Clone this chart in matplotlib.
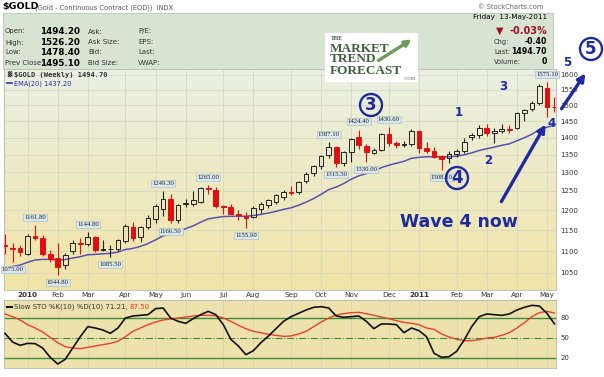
import numpy as np
import pandas as pd
import matplotlib
matplotlib.use("Agg")
import matplotlib.pyplot as plt
from matplotlib.patches import Rectangle, FancyArrowPatch
from matplotlib.ticker import FixedLocator, NullLocator, NullFormatter

plt.rcParams['font.family'] = ['DejaVu Sans']

# weekly $GOLD candles, 18-Dec-2009 .. 13-May-2011
opens = [1115, 1108, 1107, 1094, 1137, 1130, 1092, 1084, 1068, 1099,
         1120, 1117, 1133, 1102, 1104, 1104, 1123, 1157, 1133, 1158,
         1177, 1203, 1228, 1176, 1216, 1216, 1222, 1258, 1252, 1211,
         1207, 1191, 1186, 1183, 1203, 1213, 1222, 1235, 1247, 1246,
         1276, 1298, 1318, 1348, 1372, 1326, 1358, 1402, 1375, 1356,
         1364, 1410, 1385, 1379, 1380, 1420, 1370, 1362, 1345, 1341,
         1352, 1361, 1403, 1407, 1430, 1414, 1421, 1427, 1428, 1474,
         1487, 1507, 1557, 1494.2]
highs = [1140, 1120, 1115, 1141, 1161.8, 1138, 1102, 1120, 1095, 1126,
         1131, 1144.8, 1136, 1127, 1115, 1128, 1165, 1171, 1160, 1188,
         1215, 1249.3, 1243, 1216, 1228, 1251, 1260, 1265, 1260, 1214,
         1216, 1200, 1195, 1210, 1220, 1230, 1242, 1253, 1262, 1277,
         1300, 1321, 1350, 1387.1, 1376, 1362, 1400, 1424.4, 1380, 1370,
         1414, 1430.6, 1391, 1390, 1425, 1423, 1388, 1372, 1350, 1361,
         1368, 1398, 1414, 1437, 1442, 1428, 1440, 1439, 1478, 1489,
         1512, 1570, 1575.1, 1526.2]
lows = [1092, 1075, 1089, 1090, 1125, 1088, 1074, 1044.8, 1059, 1092,
        1094, 1112, 1097, 1100, 1085.5, 1100, 1120, 1124, 1122, 1152,
        1168, 1185, 1166.5, 1168, 1208, 1210, 1218, 1243, 1206, 1190,
        1190, 1176, 1155.9, 1180, 1192, 1205, 1215, 1227, 1240, 1242,
        1270, 1290, 1309, 1340, 1315.5, 1318, 1328, 1368, 1330, 1352,
        1360, 1375, 1370, 1373, 1375, 1355, 1354, 1340, 1308.1, 1326,
        1344, 1356, 1394, 1400, 1405, 1385, 1415, 1415, 1425, 1450,
        1482, 1502, 1462, 1478.4]
closes = [1111, 1104, 1097, 1135, 1130, 1094, 1081, 1064, 1090, 1118,
          1117, 1133, 1102, 1105, 1106, 1125, 1161, 1131, 1157, 1180,
          1210, 1228, 1176, 1212, 1219, 1226, 1257, 1256, 1210, 1209,
          1191, 1188, 1181, 1205, 1216, 1227, 1238, 1248, 1245, 1275,
          1297, 1318, 1347, 1372, 1326, 1358, 1395, 1377, 1357, 1364,
          1410, 1385, 1379, 1382, 1421, 1369, 1360, 1343, 1337, 1352,
          1361, 1388, 1408, 1428, 1414, 1419, 1426, 1424, 1475, 1486,
          1508, 1563, 1495.1, 1494.7]

ema_span = 20
ema_seed = 1055

# Slow STO %K(10) / %D(10)
sto_k = [57, 44, 39, 42, 41.5, 35, 21, 11, 18, 35,
         52, 67, 65, 62, 57, 65, 80, 83, 84, 85,
         94, 95, 80, 75, 72, 79, 85, 90, 85, 70,
         48, 38, 25, 31, 43, 53, 64, 75, 82, 87,
         92, 96, 97, 95, 83, 81, 82, 83, 75, 64,
         71, 71, 70, 58, 65, 61, 52, 27, 21, 22,
         30, 47, 67, 82, 86, 85, 84, 86, 92, 96,
         99, 98, 87, 71.21]
sto_d = [86, 82, 77, 70, 65, 59, 51, 43, 37, 35,
         34, 36, 38, 40, 42, 45, 52, 60, 65, 70,
         74, 77, 78.5, 80, 81.5, 83, 84, 84, 83.5, 80,
         75, 69, 64, 60, 58, 55.5, 54, 52.5, 53, 56,
         60, 67, 74, 80, 84.5, 86.5, 88, 88.5, 86.5, 84,
         81.5, 79, 76, 73.5, 72, 70, 65, 63, 56, 51.5,
         48, 46, 46, 47.5, 50, 51, 54, 58, 65, 73,
         82, 88, 90, 87.5]

month_idx = [3, 7, 11, 16, 20, 24, 29, 33, 38, 42, 46, 51, 55, 60, 64, 68, 72]
month_lbl = ['2010', 'Feb', 'Mar', 'Apr', 'May', 'Jun', 'Jul', 'Aug', 'Sep',
             'Oct', 'Nov', 'Dec', '2011', 'Feb', 'Mar', 'Apr', 'May']

price_ticks = list(range(1050, 1650, 50))

# annotated highs / lows: (bar index, 'H' or 'L')
marks = [(1, 'L'), (4, 'H'), (7, 'L'), (11, 'H'), (14, 'L'), (21, 'H'), (22, 'L'),
         (27, 'H'), (32, 'L'), (43, 'H'), (44, 'L'), (47, 'H'), (48, 'L'),
         (51, 'H'), (58, 'L'), (72, 'H')]

W, H = 604, 377
fig = plt.figure(figsize=(W / 100, H / 100), dpi=100)


def rect(x0, y0, x1, y1):
    return [x0 / W, 1 - y1 / H, (x1 - x0) / W, (y1 - y0) / H]


def ftext(x, y, s, **kw):
    return fig.text(x / W, 1 - y / H, s, **kw)


# ---- header ---------------------------------------------------------------
ftext(2, 7, '$GOLD', fontsize=6.8, fontweight='bold', va='center')
ftext(35, 7.5, '(Gold - Continuous Contract (EOD))  INDX', fontsize=4.8,
      color='#555555', va='center')
ftext(543, 7, '\u00a9 StockCharts.com', fontsize=4.8, color='#666666',
      ha='right', va='center')
fig.patches.append(Rectangle((3 / W, 1 - 69 / H), 550 / W, 56 / H,
                             transform=fig.transFigure, fc='#d7e4d2',
                             ec='#b7c7b2', lw=0.6))

rows_y = [31.5, 42.5, 52.5, 63]
left_lbl = ['Open:', 'High:', 'Low:', 'Prev Close:']
left_val = ['1494.20', '1526.20', '1478.40', '1495.10']
mid_lbl = ['Ask:', 'Ask Size:', 'Bid:', 'Bid Size:']
right_lbl = ['P/E:', 'EPS:', 'Last:', 'VWAP:']
for yy, a, b, cc, d in zip(rows_y, left_lbl, left_val, mid_lbl, right_lbl):
    ftext(5, yy, a, fontsize=5, color='#333333', va='center')
    ftext(80, yy, b, fontsize=6.3, fontweight='bold', ha='right', va='center')
    ftext(88, yy, cc, fontsize=5, color='#333333', va='center')
    ftext(138, yy, d, fontsize=5, color='#333333', va='center')

ftext(547, 17, 'Friday  13-May-2011', fontsize=5.2, ha='right', va='center')
ftext(500, 31, '\u25bc', fontsize=7, color='#a0102a', ha='center', va='center')
ftext(547, 31, '-0.03%', fontsize=7, fontweight='bold', color='#a0102a',
      ha='right', va='center')
for yy, a, b in [(42, 'Chg:', '-0.40'), (52, 'Last:', '1494.70'), (62, 'Volume:', '0')]:
    ftext(494, yy, a, fontsize=4.8, color='#333333', va='center')
    ftext(547, yy, b, fontsize=5.6, fontweight='bold', ha='right', va='center')

# ---- price panel ------------------------------------------------------------
bg = fig.add_axes(rect(4, 69, 556, 290), zorder=0)
grad = np.linspace(0, 1, 256)[:, None, None]
c_top = np.array([234, 240, 226]) / 255
c_bot = np.array([242, 228, 166]) / 255
bg.imshow(c_top + (c_bot - c_top) * grad, aspect='auto', extent=[0, 1, 0, 1])
bg.axis('off')

ax = fig.add_axes(rect(4, 69, 556, 290), zorder=1)
ax.patch.set_alpha(0)
ax.set_yscale('log')

n = len(closes)
x = np.arange(n)
o = np.array(opens, float)
h = np.array(highs, float)
l = np.array(lows, float)
c = np.array(closes, float)
prev = np.r_[o[0], c[:-1]]
red = c < prev
filled = c < o
body_lo = np.minimum(o, c)
body_hi = np.maximum(o, c)
RED, BLK = '#e01010', '#222222'
cols = np.where(red, RED, BLK)

ax.vlines(x, body_hi, h, colors=cols, lw=0.8, zorder=3)
ax.vlines(x, l, body_lo, colors=cols, lw=0.8, zorder=3)
ax.bar(x, body_hi - body_lo, bottom=body_lo, width=0.62,
       color=[cc if f else 'none' for cc, f in zip(cols, filled)],
       edgecolor=cols, lw=0.7, zorder=4)

ema = pd.Series([ema_seed] + closes, dtype=float).ewm(span=ema_span, adjust=False).mean().values[1:]
ax.plot(x, ema, color='#5a52b0', lw=1.1, zorder=2)

for i, side in marks:
    val = highs[i] if side == 'H' else lows[i]
    off = 5.5 if side == 'H' else -5.5
    ax.annotate('%.2f' % val, xy=(i, val), xytext=(0, off), textcoords='offset points',
                ha='center', va='center', fontsize=4.9, family='Liberation Serif',
                color='#222222', zorder=6,
                bbox=dict(boxstyle='square,pad=0.15', fc='#d9e8ee', ec='#a9c4cc', lw=0.5))

ax.set_xlim(-0.135, n - 1 + 0.2)
ax.set_ylim(1012.6, 1620)
ax.yaxis.tick_right()
ax.yaxis.set_major_locator(FixedLocator(price_ticks))
ax.yaxis.set_major_formatter(plt.FuncFormatter(lambda v, p: '%d' % v))
ax.yaxis.set_minor_locator(NullLocator())
ax.yaxis.set_minor_formatter(NullFormatter())
ax.set_xticks(month_idx)
ax.set_xticklabels(month_lbl)
for t in ax.get_xticklabels():
    if t.get_text() in ('2010', '2011'):
        t.set_fontweight('bold')
ax.tick_params(axis='y', length=0, pad=3, labelsize=5, labelcolor='#333333')
ax.tick_params(axis='x', length=0, pad=1.5, labelsize=5.2, labelcolor='#333333')
ax.grid(True, color='#d2d4c4', lw=0.5)
ax.set_axisbelow(True)
for s in ax.spines.values():
    s.set_color('#b4b8a8')
    s.set_linewidth(0.6)

# legend
ax.text(0.005, 0.975, '\u2593', transform=ax.transAxes, fontsize=4, va='center', color='#333333')
ax.text(0.018, 0.975, '$GOLD (Weekly) 1494.70', transform=ax.transAxes, fontsize=5,
        family='DejaVu Sans Mono', fontweight='bold', color='#333333', va='center')
ax.plot([0.005, 0.014], [0.935, 0.935], transform=ax.transAxes, color='#3030c0', lw=1.2)
ax.text(0.018, 0.935, 'EMA(20) 1437.20', transform=ax.transAxes, fontsize=4.8,
        color='#2a2ab0', va='center')

# ---- stochastics panel ----------------------------------------------------
bg2 = fig.add_axes(rect(4, 300, 556, 368), zorder=0)
bg2.imshow(np.array([238, 226, 172])[None, None, :] / 255 * np.ones((2, 2, 3)),
           aspect='auto', extent=[0, 1, 0, 1])
bg2.axis('off')
sx = fig.add_axes(rect(4, 300, 556, 368), zorder=1)
sx.patch.set_alpha(0)
sx.plot(x, sto_d, color='#e8402c', lw=1.0, zorder=3)
sx.plot(x, sto_k, color='#111111', lw=1.2, zorder=4)
sx.axhline(80, color='#3c8c3c', lw=1.0, zorder=2)
sx.axhline(20, color='#3c8c3c', lw=1.0, zorder=2)
sx.axhline(50, color='#3c8c3c', lw=0.8, ls='-.', zorder=2)
sx.set_xlim(-0.135, n - 1 + 0.2)
sx.set_ylim(5, 107)
sx.set_xticks(month_idx)
sx.set_xticklabels([])
sx.yaxis.tick_right()
sx.set_yticks([80, 50, 20])
sx.tick_params(axis='y', length=0, pad=3, labelsize=5, labelcolor='#333333')
sx.tick_params(axis='x', length=0)
sx.grid(True, axis='x', color='#d6d0b0', lw=0.5)
sx.set_axisbelow(True)
for s in sx.spines.values():
    s.set_color('#b4b8a8')
    s.set_linewidth(0.6)
sx.plot([0.005, 0.014], [0.9, 0.9], transform=sx.transAxes, color='#111111', lw=1.5)
t1 = sx.text(0.018, 0.9, 'Slow STO %K(10) %D(10) 71.21, ', transform=sx.transAxes,
             fontsize=5, color='#333333', va='center')
fig.canvas.draw()
bb = t1.get_window_extent().transformed(sx.transAxes.inverted())
sx.text(bb.x1, 0.9, '87.50', transform=sx.transAxes, fontsize=5, color='#e8402c', va='center')

# ---- logo -----------------------------------------------------------------
fig.patches.append(Rectangle((325 / W, 1 - 82 / H), 93 / W, 49 / H,
                             transform=fig.transFigure, fc='white', ec='none', zorder=5))
green = '#3f5f3b'
ftext(331, 39, 'THE', fontsize=3.5, family='DejaVu Serif', fontweight='bold', color=green, va='center', zorder=6)
for yy, s in [(48.5, 'MARKET'), (59.5, 'TREND'), (70.5, 'FORECAST')]:
    ftext(330, yy, s, fontsize=9.5, family='Liberation Serif', fontweight='bold',
          color=green, va='center', zorder=6)
ftext(410, 79, '.COM', fontsize=3, family='DejaVu Serif', color=green, ha='center', va='center', zorder=6)
fig.patches.append(FancyArrowPatch((376 / W, 1 - 62 / H), (414 / W, 1 - 38 / H),
                                   transform=fig.transFigure, arrowstyle='-|>',
                                   mutation_scale=9, lw=2.4, color='#6f9a5c', zorder=6))

# ---- Elliott wave notes -------------------------------------------------------
navy = '#1d2b9e'
for xx, yy, s in [(371, 105, '3'), (457, 178, '4'), (591, 49, '5')]:
    ftext(xx, yy, s, fontsize=12, fontweight='bold', color=navy, ha='center', va='center',
          zorder=7, bbox=dict(boxstyle='circle,pad=0.12', fc='none', ec=navy, lw=1.7))
for xx, yy, s in [(459, 113, '1'), (488, 160, '2'), (503, 86, '3'), (552, 124, '4'), (567, 62, '5')]:
    ftext(xx, yy, s, fontsize=8.5, fontweight='bold', color=navy, ha='center', va='center', zorder=7)
ftext(459, 222, 'Wave 4 now', fontsize=12.5, fontweight='bold', color=navy,
      ha='center', va='center', zorder=7)
for (x0, y0), (x1, y1) in [((500, 204), (547, 122)), ((560, 111), (587, 71))]:
    fig.patches.append(FancyArrowPatch((x0 / W, 1 - y0 / H), (x1 / W, 1 - y1 / H),
                                       transform=fig.transFigure, arrowstyle='-|>',
                                       mutation_scale=11, lw=2.4, color=navy, zorder=7))

fig.savefig('out.png', dpi=100)
